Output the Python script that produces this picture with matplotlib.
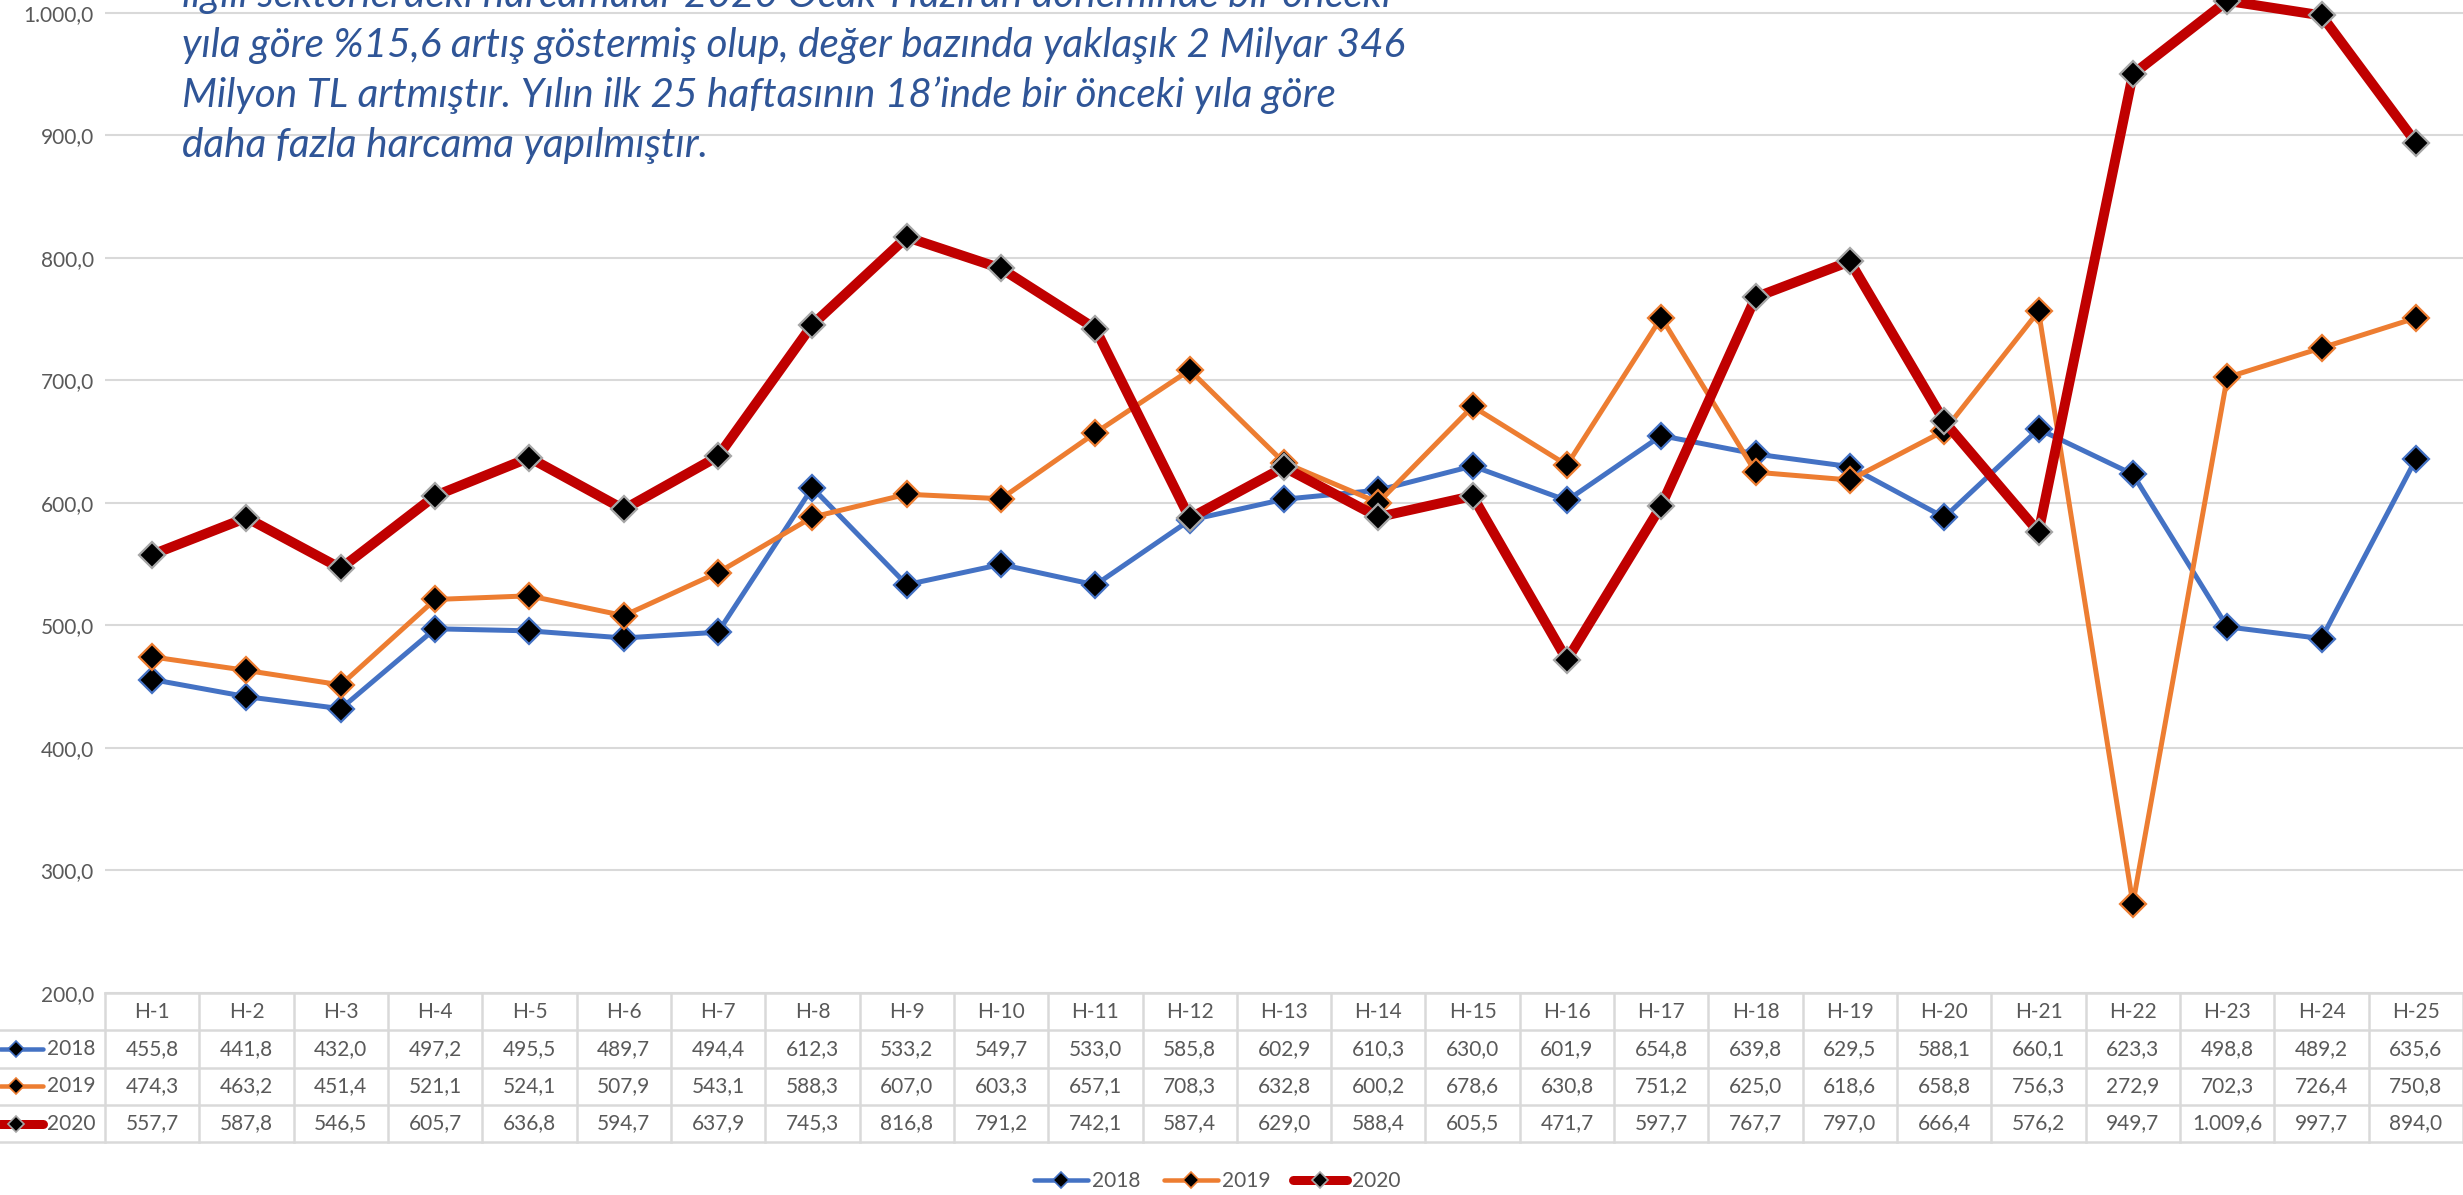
import matplotlib
matplotlib.use("Agg")
import matplotlib.pyplot as plt
from matplotlib.lines import Line2D
from matplotlib.transforms import blended_transform_factory

# ---------------- data ----------------
weeks = [f"H-{i}" for i in range(1, 26)]
years = ["2018", "2019", "2020"]
v2018 = [455.8, 441.8, 432.0, 497.2, 495.5, 489.7, 494.4, 612.3, 533.2, 549.7,
         533.0, 585.8, 602.9, 610.3, 630.0, 601.9, 654.8, 639.8, 629.5, 588.1,
         660.1, 623.3, 498.8, 489.2, 635.6]
v2019 = [474.3, 463.2, 451.4, 521.1, 524.1, 507.9, 543.1, 588.3, 607.0, 603.3,
         657.1, 708.3, 632.8, 600.2, 678.6, 630.8, 751.2, 625.0, 618.6, 658.8,
         756.3, 272.9, 702.3, 726.4, 750.8]
v2020 = [557.7, 587.8, 546.5, 605.7, 636.8, 594.7, 637.9, 745.3, 816.8, 791.2,
         742.1, 587.4, 629.0, 588.4, 605.5, 471.7, 597.7, 767.7, 797.0, 666.4,
         576.2, 949.7, 1009.6, 997.7, 894.0]
yticks = [200, 300, 400, 500, 600, 700, 800, 900, 1000]
text_lines = [
    "ilgili sektörlerdeki harcamalar 2020 Ocak-Haziran döneminde bir önceki",
    "yıla göre %15,6 artış göstermiş olup, değer bazında yaklaşık 2 Milyar 346",
    "Milyon TL artmıştır. Yılın ilk 25 haftasının 18’inde bir önceki yıla göre",
    "daha fazla harcama yapılmıştır.",
]

series = [v2018, v2019, v2020]
colors = ["#4472C4", "#ED7D31", "#C00000"]
edges = ["#4472C4", "#ED7D31", "#A6A6A6"]
lws = [3.6, 3.6, 7.2]


def tr(v):
    s = f"{v:,.1f}"
    return s.replace(",", "X").replace(".", ",").replace("X", ".")


W, H = 2463, 1195
plt.rcParams["font.family"] = ["Lato", "DejaVu Sans"]
fig = plt.figure(figsize=(W / 100, H / 100), dpi=100)

left_px, bottom_px, top_px = 105, 993, 12.6
ax = fig.add_axes([left_px / W, 1 - bottom_px / H, (W - left_px) / W, bottom_px / H])
ymax = 200 + bottom_px / (bottom_px - top_px) * 800
ax.set_ylim(200, ymax)
ax.set_xlim(-0.5, len(weeks) - 0.5)
for s in ax.spines.values():
    s.set_visible(False)
ax.set_yticks(yticks)
ax.set_yticklabels([tr(t) for t in yticks], color="#595959", fontsize=15)
ax.tick_params(axis="y", length=0, pad=8)
ax.set_xticks([])
ax.yaxis.grid(True, color="#D9D9D9", lw=1.5)
ax.set_axisbelow(True)

x = list(range(len(weeks)))
for vals, c, e, lw in zip(series, colors, edges, lws):
    ax.plot(x, vals, color=c, lw=lw, marker="D", markersize=13.5,
            markerfacecolor="black", markeredgecolor=e, markeredgewidth=1.6,
            clip_on=False, zorder=3, solid_joinstyle="round")

# ---------------- data table ----------------
tb = blended_transform_factory(ax.transData, ax.transAxes)
ta = ax.transAxes
row_h = 37.3 / bottom_px
grid_c = "#D9D9D9"
lx = -left_px / (W - left_px)  # figure left edge in axes fraction
n = len(weeks)
ax.plot([-0.5, n - 0.5], [0, 0], transform=tb, color=grid_c, lw=1.8, clip_on=False)
for k in range(1, 5):
    ax.plot([lx, 1], [-k * row_h] * 2, transform=ta, color=grid_c, lw=1.8, clip_on=False)
for i in range(n + 1):
    ax.plot([i - 0.5] * 2, [0, -4 * row_h], transform=tb, color=grid_c, lw=1.8, clip_on=False)
for i, w in enumerate(weeks):
    ax.text(i, -0.5 * row_h, w, transform=tb, ha="center", va="center",
            fontsize=15, color="#595959")
    for r, vals in enumerate(series):
        ax.text(i, -(r + 1.5) * row_h, tr(vals[i]), transform=tb, ha="center",
                va="center", fontsize=15, color="#595959")
for r, (yr, c, e, lw) in enumerate(zip(years, colors, edges, lws)):
    yy = -(r + 1.5) * row_h
    ax.plot([lx, lx + 43 / (W - left_px)], [yy, yy], transform=ta, color=c,
            lw=lw * 0.9, clip_on=False, solid_capstyle="round")
    ax.plot([lx + 16 / (W - left_px)], [yy], transform=ta, marker="D", markersize=8,
            markerfacecolor="black", markeredgecolor=e, markeredgewidth=1.2,
            clip_on=False)
    ax.text(lx + 47 / (W - left_px), yy, yr, transform=ta, ha="left", va="center",
            fontsize=15, color="#595959")

# ---------------- legend ----------------
handles = [Line2D([], [], color=c, lw=lw * 0.9, marker="D", markersize=8,
                  markerfacecolor="black", markeredgecolor=e, markeredgewidth=1.2,
                  solid_capstyle="round")
           for c, e, lw in zip(colors, edges, lws)]
fig.legend(handles, years, loc="center", bbox_to_anchor=(1217 / W, 1 - 1181 / H),
           ncol=3, frameon=False, fontsize=15, handlelength=2.6, columnspacing=1.1,
           handletextpad=0.2, labelcolor="#595959")

# ---------------- annotation text ----------------
baselines = [7, 57, 107, 157]
for t, b in zip(text_lines, baselines):
    fig.text(182 / W, 1 - b / H, t, ha="left", va="baseline", fontsize=29.2,
             style="italic", color="#2F5597")

fig.savefig("out.png", dpi=100)
